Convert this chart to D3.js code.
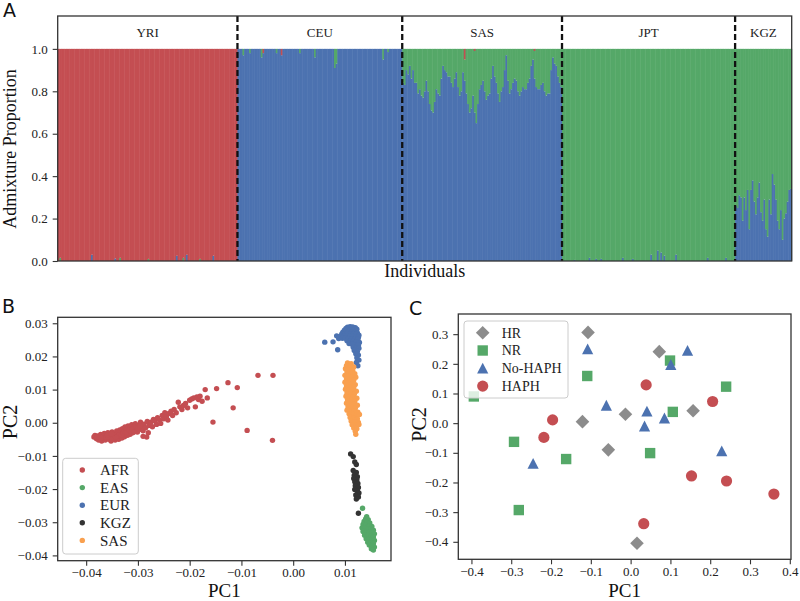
<!DOCTYPE html>
<html><head><meta charset="utf-8">
<script src="https://cdn.jsdelivr.net/npm/d3@7"></script>
<style>
html,body{margin:0;padding:0;background:#fff;}
svg{display:block;font-family:"Liberation Serif","DejaVu Serif",serif;}
svg text{font-family:"Liberation Serif","DejaVu Serif",serif;}
svg text.letter{font-family:"DejaVu Sans",sans-serif;}
</style></head>
<body><svg id="c" width="800" height="601"></svg>
<script>
// ---------------- Panel A data (admixture proportions per individual) ----------------
const populations = ["YRI","CEU","SAS","JPT","KGZ"];
// YRI: red is the remainder
const yriBlue = [0,0,0,0,0,0,0,0,0,0, 0,0,0,0,0,0,0,0,0,0, 0.03,0,0,0,0,0,0,0,0,0, 0,0,0,0,0.012,0,0,0,0,0,
  0,0,0,0,0,0,0,0,0,0, 0,0,0,0,0,0,0,0,0,0, 0,0,0,0,0,0,0,0,0,0, 0,0.025,0,0,0,0,0,0.03,0,0,
  0,0,0,0,0,0,0,0,0,0, 0,0,0,0.025,0,0,0,0,0,0, 0,0,0,0,0,0,0,0];
const yriGreen = [0,0.015,0,0,0,0,0,0,0,0, 0,0,0,0,0,0,0,0,0,0, 0,0,0,0,0,0,0,0,0,0, 0,0,0,0,0,0,0,0.015,0,0,
  0,0,0,0,0,0,0,0,0,0, 0,0,0,0,0.01,0,0,0,0,0, 0,0,0,0,0,0,0,0,0,0, 0,0,0,0,0,0.015,0,0,0,0,
  0,0,0,0,0,0.01,0,0,0,0, 0,0,0,0,0,0,0,0,0,0, 0,0,0,0,0,0,0,0];
// CEU: blue is the remainder
const ceuGreen = [0,0,0,0.03,0,0,0,0.02,0,0, 0,0,0,0,0.04,0,0,0,0,0, 0,0,0,0.02,0,0,0,0,0,0, 0,0,0,0,0,0,0,0.02,0,0,
  0,0,0,0,0,0,0.04,0,0,0, 0,0,0,0,0,0,0,0,0.09,0.07, 0,0,0,0,0,0,0,0,0,0, 0,0,0,0,0,0,0,0,0,0,
  0,0,0,0,0,0,0,0.05,0,0, 0.015,0,0,0,0,0,0,0,0];
const ceuRed = [0,0,0,0,0,0,0,0,0,0, 0,0,0,0,0,0.02,0,0,0,0, 0,0,0,0,0,0,0.03,0,0,0, 0,0,0,0,0,0,0,0,0,0,
  0,0,0,0,0,0,0,0,0,0, 0,0,0,0,0,0,0,0,0,0, 0,0,0,0,0,0,0,0,0,0, 0,0,0,0,0,0,0,0,0,0,
  0,0,0,0,0,0,0,0,0,0, 0,0,0,0,0,0,0,0,0];
// SAS: green is the remainder
const sasBlue = [0.84,0.83,0.90,0.88,0.92,0.86,0.90,0.84,0.84,0.79,0.81,0.78,0.77,0.80,0.85,0.80,0.74,0.71,0.70,0.75,
  0.81,0.79,0.78,0.86,0.92,0.90,0.89,0.87,0.87,0.84,0.82,0.86,0.89,0.82,0.78,0.80,0.89,0.85,0.79,0.74,
  0.70,0.72,0.78,0.70,0.65,0.74,0.81,0.83,0.85,0.80,0.76,0.78,0.79,0.86,0.92,0.87,0.84,0.79,0.75,0.80,
  0.82,0.90,0.97,0.85,0.79,0.81,0.84,0.86,0.85,0.80,0.78,0.80,0.82,0.81,0.81,0.84,0.86,0.92,0.95,0.86,
  0.82,0.81,0.81,0.83,0.84,0.80,0.78,0.79,0.79,0.90,0.96,0.93,0.92,0.87,0.84,0.82];
const sasRed = [0,0,0,0,0,0,0,0,0,0, 0,0,0,0,0,0,0,0,0,0, 0,0,0,0,0,0,0,0,0,0, 0,0,0,0,0,0,0,0.05,0,0,
  0,0,0,0.01,0,0,0,0,0,0, 0,0,0,0,0,0,0,0,0,0, 0,0,0,0,0,0,0,0,0,0, 0,0,0,0,0,0,0,0,0,0.01,
  0,0,0,0,0,0,0,0,0,0, 0,0,0,0,0,0];
// JPT: green is the remainder
const jptBlue = [0,0,0,0,0,0,0,0.005,0,0, 0,0,0,0,0,0,0.015,0,0,0, 0.01,0,0,0.01,0,0,0,0,0,0, 0,0,0,0,0,0,0.015,0,0,0,
  0,0,0.01,0,0,0,0,0,0,0, 0,0,0,0.03,0,0,0,0.05,0,0.04, 0,0.025,0,0,0,0,0,0,0.03,0, 0,0,0,0,0,0,0,0,0,0,
  0,0,0,0,0,0,0,0.015,0,0, 0,0,0,0,0,0,0,0,0.015,0, 0,0,0,0];
// KGZ: green is the remainder
const kgzBlue = [0.26,0.25,0.31,0.30,0.19,0.30,0.24,0.335,0.15,0.335,0.38,0.28,0.22,0.30,0.37,0.23,0.19,
  0.29,0.15,0.115,0.29,0.22,0.41,0.36,0.29,0.19,0.15,0.24,0.10,0.20,0.225,0.28,0.335,0.34];
const admixTicks = [0,0.2,0.4,0.6,0.8,1.0];

// ---------------- Panel B data (PCA coordinates) ----------------
const pcaGroups = ["AFR","EAS","EUR","KGZ","SAS"];
const afrPC = [[-0.0385,-0.0043],[-0.0383,-0.0038],[-0.0380,-0.0048],[-0.0378,-0.0040],[-0.0376,-0.0052],[-0.0374,-0.0045],[-0.0372,-0.0035],[-0.0370,-0.0055],[-0.0368,-0.0042],[-0.0366,-0.0048],[-0.0365,-0.0032],[-0.0363,-0.0052],[-0.0361,-0.0040],[-0.0360,-0.0046],[-0.0358,-0.0030],[-0.0356,-0.0050],[-0.0355,-0.0037],[-0.0353,-0.0043],[-0.0352,-0.0055],[-0.0350,-0.0028],[-0.0348,-0.0040],[-0.0347,-0.0047],[-0.0345,-0.0033],[-0.0344,-0.0052],[-0.0342,-0.0038],[-0.0341,-0.0025],[-0.0340,-0.0045],[-0.0338,-0.0032],[-0.0337,-0.0050],[-0.0335,-0.0022],[-0.0334,-0.0040],[-0.0333,-0.0030],[-0.0331,-0.0046],[-0.0330,-0.0018],[-0.0329,-0.0036],[-0.0327,-0.0027],[-0.0326,-0.0042],[-0.0325,-0.0013],[-0.0323,-0.0033],[-0.0322,-0.0022],[-0.0320,-0.0038],[-0.0319,-0.0010],[-0.0318,-0.0028],[-0.0316,-0.0017],[-0.0315,-0.0035],[-0.0313,-0.0023],[-0.0312,-0.0006],[-0.0310,-0.0030],[-0.0308,-0.0014],[-0.0306,-0.0024],[-0.0305,-0.0003],[-0.0303,-0.0018],[-0.0301,-0.0028],[-0.0299,-0.0008],[-0.0297,-0.0020],[-0.0295,0.0002],[-0.0293,-0.0012],[-0.0290,-0.0024],[-0.0288,-0.0004],[-0.0285,-0.0015],[-0.0282,0.0004],[-0.0280,-0.0030],[-0.0278,-0.0008],
  [-0.0379,-0.0044],[-0.0371,-0.0046],[-0.0362,-0.0044],[-0.0357,-0.0042],[-0.0349,-0.0050],[-0.0346,-0.0036],[-0.0339,-0.0041],[-0.0336,-0.0036],[-0.0332,-0.0038],[-0.0328,-0.0031],[-0.0324,-0.0029],[-0.0321,-0.0030],[-0.0317,-0.0022],[-0.0314,-0.0026],[-0.0311,-0.0020],[-0.0307,-0.0027],[-0.0304,-0.0012],[-0.0300,-0.0016],[-0.0296,-0.0010],[-0.0359,-0.0037],[-0.0343,-0.0044],[-0.0351,-0.0034],[-0.0290,-0.0041],[-0.0283,-0.0043],
  [-0.0275,0.0002],[-0.0272,-0.0012],[-0.0270,0.0010],[-0.0267,0.0005],[-0.0264,-0.0005],[-0.0262,0.0015],[-0.0258,0.0008],[-0.0256,-0.0002],[-0.0253,0.0022],[-0.0250,0.0012],[-0.0248,0.0030],[-0.0245,0.0018],[-0.0242,0.0008],[-0.0240,0.0028],[-0.0236,0.0035],[-0.0233,0.0022],[-0.0230,0.0040],[-0.0226,0.0030],[-0.0222,0.0062],[-0.0219,0.0048],[-0.0215,0.0040],[-0.0212,0.0052],[-0.0208,0.0058],[-0.0204,0.0045],[-0.0200,0.0068],[-0.0196,0.0072],[-0.0192,0.0075],[-0.0189,0.0048],[-0.0186,0.0078],[-0.0183,0.0070],[-0.0180,0.0080],[-0.0176,0.0065],[-0.0170,0.0100],[-0.0166,0.0075],[-0.0155,0.0002],[-0.0148,0.0103],[-0.0126,0.0121],[-0.0116,0.0045],[-0.0108,0.0106],[-0.0089,-0.0023],[-0.0068,0.0143],[-0.0039,0.0143],[-0.0040,-0.0053]];
const easPC = [[0.0134,-0.0258],[0.0142,-0.0283],[0.0140,-0.0290],[0.0145,-0.0292],[0.0137,-0.0298],[0.0143,-0.0300],[0.0148,-0.0302],[0.0135,-0.0307],[0.0141,-0.0309],[0.0147,-0.0311],[0.0152,-0.0313],[0.0133,-0.0317],[0.0139,-0.0318],[0.0145,-0.0320],[0.0150,-0.0322],[0.0155,-0.0324],[0.0135,-0.0328],[0.0141,-0.0329],[0.0147,-0.0331],[0.0152,-0.0333],[0.0157,-0.0335],[0.0138,-0.0339],[0.0144,-0.0340],[0.0150,-0.0342],[0.0155,-0.0344],[0.0141,-0.0350],[0.0147,-0.0351],[0.0152,-0.0353],[0.0157,-0.0355],[0.0144,-0.0360],[0.0150,-0.0362],[0.0155,-0.0364],[0.0147,-0.0369],[0.0152,-0.0372],[0.0157,-0.0375],[0.0151,-0.0380],[0.0155,-0.0384]];
const eurPC = [[0.0105,0.0288],[0.0110,0.0290],[0.0115,0.0289],[0.0120,0.0287],[0.0102,0.0284],[0.0108,0.0284],[0.0113,0.0285],[0.0118,0.0283],[0.0123,0.0282],[0.0099,0.0279],[0.0105,0.0279],[0.0111,0.0280],[0.0116,0.0278],[0.0122,0.0277],[0.0096,0.0273],[0.0101,0.0274],[0.0107,0.0275],[0.0113,0.0273],[0.0119,0.0272],[0.0124,0.0271],[0.0094,0.0268],[0.0099,0.0267],[0.0104,0.0269],[0.0110,0.0268],[0.0116,0.0267],[0.0122,0.0266],[0.0127,0.0264],[0.0092,0.0262],[0.0098,0.0261],[0.0104,0.0262],[0.0109,0.0261],[0.0115,0.0260],[0.0121,0.0259],[0.0126,0.0258],[0.0095,0.0255],[0.0101,0.0255],[0.0107,0.0254],[0.0113,0.0253],[0.0119,0.0252],[0.0125,0.0251],[0.0104,0.0247],[0.0110,0.0246],[0.0116,0.0245],[0.0122,0.0243],[0.0128,0.0242],[0.0108,0.0239],[0.0114,0.0237],[0.0120,0.0235],[0.0126,0.0234],[0.0116,0.0228],[0.0122,0.0226],[0.0127,0.0225],[0.0118,0.0218],[0.0124,0.0215],[0.0121,0.0208],[0.0126,0.0204],[0.0123,0.0196],[0.0127,0.0189],[0.0122,0.0182],[0.0125,0.0172],
  [0.0061,0.0243],[0.0077,0.0244],[0.0086,0.0220],[0.0088,0.0254],[0.0084,0.0262]];
const kgzPC = [[0.0111,-0.0094],[0.0116,-0.0102],[0.0119,-0.0118],[0.0122,-0.0126],[0.0116,-0.0144],[0.0122,-0.0150],[0.0118,-0.0158],[0.0124,-0.0163],[0.0117,-0.0168],[0.0123,-0.0172],[0.0119,-0.0178],[0.0125,-0.0183],[0.0120,-0.0190],[0.0126,-0.0195],[0.0119,-0.0201],[0.0124,-0.0206],[0.0127,-0.0212],[0.0121,-0.0218],[0.0126,-0.0224],[0.0122,-0.0230],[0.0126,-0.0273]];
const sasPC = [[0.0105,0.0180],[0.0112,0.0178],[0.0103,0.0172],[0.0110,0.0170],[0.0117,0.0168],[0.0101,0.0163],[0.0108,0.0160],[0.0115,0.0158],[0.0104,0.0153],[0.0112,0.0150],[0.0119,0.0148],[0.0100,0.0143],[0.0107,0.0141],[0.0114,0.0139],[0.0121,0.0137],[0.0103,0.0132],[0.0110,0.0130],[0.0117,0.0128],[0.0100,0.0122],[0.0107,0.0120],[0.0114,0.0118],[0.0120,0.0115],[0.0103,0.0111],[0.0110,0.0109],[0.0117,0.0107],[0.0101,0.0101],[0.0108,0.0099],[0.0115,0.0097],[0.0122,0.0095],[0.0104,0.0090],[0.0111,0.0088],[0.0118,0.0086],[0.0102,0.0080],[0.0109,0.0078],[0.0116,0.0076],[0.0123,0.0074],[0.0105,0.0069],[0.0112,0.0067],[0.0119,0.0065],[0.0103,0.0059],[0.0110,0.0057],[0.0117,0.0055],[0.0124,0.0053],[0.0106,0.0048],[0.0113,0.0046],[0.0120,0.0044],[0.0104,0.0038],[0.0111,0.0036],[0.0118,0.0034],[0.0125,0.0032],[0.0108,0.0027],[0.0115,0.0025],[0.0122,0.0023],[0.0128,0.0025],[0.0110,0.0016],[0.0117,0.0014],[0.0124,0.0012],[0.0112,0.0005],[0.0119,0.0003],[0.0126,0.0001],[0.0114,-0.0006],[0.0121,-0.0008],[0.0127,-0.0005],[0.0117,-0.0016],[0.0123,-0.0018],[0.0120,-0.0026],[0.0121,-0.0035]];
const pcaXTicks = [-0.04,-0.03,-0.02,-0.01,0.00,0.01];
const pcaYTicks = [-0.04,-0.03,-0.02,-0.01,0.00,0.01,0.02,0.03];

// ---------------- Panel C data ----------------
const phenoGroups = ["HR","NR","No-HAPH","HAPH"];
const hrPC = [[-0.107,0.306],[0.072,0.241],[-0.013,0.030],[-0.121,0.005],[-0.056,-0.090],[0.157,0.042],[0.016,-0.405]];
const nrPC = [[-0.394,0.090],[-0.109,0.159],[0.099,0.211],[0.240,0.123],[0.106,0.038],[-0.293,-0.063],[-0.162,-0.121],[0.049,-0.101],[-0.281,-0.293]];
const nohaphPC = [[-0.108,0.250],[0.143,0.245],[0.101,0.197],[-0.061,0.060],[0.041,0.040],[0.035,-0.010],[0.085,0.017],[-0.245,-0.136],[0.229,-0.094]];
const haphPC = [[0.039,0.129],[0.206,0.073],[-0.196,0.011],[-0.218,-0.048],[0.153,-0.178],[0.241,-0.195],[0.360,-0.239],[0.033,-0.339]];
const phenoXTicks = [-0.4,-0.3,-0.2,-0.1,0.0,0.1,0.2,0.3,0.4];
const phenoYTicks = [-0.4,-0.3,-0.2,-0.1,0.0,0.1,0.2,0.3];

// ---------------- styles ----------------
const RED="#c44e52", GREEN="#55a868", BLUE="#4c72b0", DARK="#333333", ORANGE="#f9a04f", GREY="#8c8c8c";
const FRAME="#333333";
const SERIF="'Liberation Serif','DejaVu Serif',serif";

const svg = d3.select("#c");

function styleAxis(g, fs){
  g.attr("font-family", SERIF).attr("font-size", fs);
  g.select(".domain").remove();
  g.selectAll(".tick line").attr("stroke", FRAME).attr("stroke-width",1.1);
  g.selectAll(".tick text").attr("fill","#222").attr("font-family",SERIF)
    .style("font-size",fs+"px").style("font-family",SERIF);
}
function frame(x0,y0,x1,y1){
  svg.append("rect").attr("x",x0).attr("y",y0).attr("width",x1-x0).attr("height",y1-y0)
    .attr("fill","none").attr("stroke",FRAME).attr("stroke-width",1.3);
}
function panelLetter(t,x,y){
  svg.append("text").attr("class","letter").attr("x",x).attr("y",y).text(t)
    .style("font-size","19px").attr("fill","#111");
}

// ================= Panel A =================
(function(){
  const L=57.7, R=791.7, T=16, B=261;
  const comps = {
    YRI: yriBlue.map((b,i)=>({blue:b, green:yriGreen[i], red:1-b-yriGreen[i]})),
    CEU: ceuGreen.map((g,i)=>({blue:1-g-ceuRed[i], green:g, red:ceuRed[i]})),
    SAS: sasBlue.map((b,i)=>({blue:b, green:1-b-sasRed[i], red:sasRed[i]})),
    JPT: jptBlue.map((b)=>({blue:b, green:1-b, red:0})),
    KGZ: kgzBlue.map((b)=>({blue:b, green:1-b, red:0}))
  };
  const inds = [];
  populations.forEach(p=>comps[p].forEach((c,i)=>inds.push({id:p+"_"+i, pop:p, ...c})));
  const x = d3.scaleBand().domain(inds.map(d=>d.id)).range([L,R]).padding(0);
  const y = d3.scaleLinear().domain([0,1.155]).range([B,T]);
  const g = svg.append("g");
  const bw = x.bandwidth();
  const segs = [];
  inds.forEach(d=>{
    let acc=0;
    [["blue",BLUE],["green",GREEN],["red",RED]].forEach(([k,col])=>{
      const v=Math.max(0,d[k]);
      if(v>0) segs.push({id:d.id, y0:acc, y1:acc+v, col});
      acc+=v;
    });
  });
  g.selectAll("rect.seg").data(segs).join("rect").attr("class","seg")
    .attr("x",d=>x(d.id)).attr("width",bw+0.5)
    .attr("y",d=>y(d.y1)).attr("height",d=>y(d.y0)-y(d.y1))
    .attr("fill",d=>d.col);
  populations.forEach((p,pi)=>{
    const first = x(p+"_0"), last = x(p+"_"+(comps[p].length-1))+bw;
    svg.append("text").attr("x",(first+last)/2).attr("y",37).attr("text-anchor","middle")
      .style("font-size","13px").attr("fill","#222").text(p);
    if(pi>0){
      svg.append("line").attr("x1",first).attr("x2",first).attr("y1",T).attr("y2",B)
        .attr("stroke","#111").attr("stroke-width",2.3).attr("stroke-dasharray","6,3");
    }
  });
  const ax = svg.append("g").attr("transform",`translate(${L},0)`)
    .call(d3.axisLeft(y).tickValues(admixTicks).tickFormat(d3.format(".1f")).tickSize(5).tickPadding(5));
  styleAxis(ax,13);
  frame(L,T,R,B);
  svg.append("text").attr("transform","translate(16,149) rotate(-90)").attr("text-anchor","middle")
    .style("font-size","18px").attr("fill","#111").text("Admixture Proportion");
  svg.append("text").attr("x",(L+R)/2).attr("y",277).attr("text-anchor","middle")
    .style("font-size","18px").attr("fill","#111").text("Individuals");
  panelLetter("A",3,17);
})();

// ================= Panel B =================
(function(){
  const L=57.7, R=391, T=317.3, B=560.7;
  const x = d3.scaleLinear().domain([-0.0455,0.0189]).range([L,R]);
  const y = d3.scaleLinear().domain([-0.0416,0.0318]).range([B,T]);
  const col = d3.scaleOrdinal().domain(pcaGroups).range([RED,GREEN,BLUE,DARK,ORANGE]);
  const sets = {AFR:afrPC, EAS:easPC, EUR:eurPC, KGZ:kgzPC, SAS:sasPC};
  pcaGroups.forEach(gname=>{
    svg.append("g").selectAll("circle").data(sets[gname]).join("circle")
      .attr("cx",d=>x(d[0])).attr("cy",d=>y(d[1])).attr("r",2.7).attr("fill",col(gname));
  });
  const ax = svg.append("g").attr("transform",`translate(0,${B})`)
    .call(d3.axisBottom(x).tickValues(pcaXTicks).tickFormat(d3.format(".2f")).tickSize(5).tickPadding(2));
  styleAxis(ax,13);
  const ay = svg.append("g").attr("transform",`translate(${L},0)`)
    .call(d3.axisLeft(y).tickValues(pcaYTicks).tickFormat(d3.format(".2f")).tickSize(5).tickPadding(5));
  styleAxis(ay,13);
  frame(L,T,R,B);
  const lg = svg.append("g");
  lg.append("rect").attr("x",62.7).attr("y",458.3).attr("width",75.6).attr("height",95.7).attr("rx",3)
    .attr("fill","#fff").attr("fill-opacity",0.8).attr("stroke","#cccccc").attr("stroke-width",1);
  pcaGroups.forEach((gname,i)=>{
    const yy = 470 + i*17.6;
    lg.append("circle").attr("cx",82.3).attr("cy",yy).attr("r",2.7).attr("fill",col(gname));
    lg.append("text").attr("x",100).attr("y",yy).attr("dy","0.35em").style("font-size","15px")
      .attr("fill","#222").text(gname);
  });
  svg.append("text").attr("x",(L+R)/2).attr("y",597).attr("text-anchor","middle")
    .style("font-size","19px").attr("fill","#111").text("PC1");
  svg.append("text").attr("transform","translate(17,422) rotate(-90)").attr("text-anchor","middle")
    .style("font-size","20px").attr("fill","#111").text("PC2");
  panelLetter("B",2,313);
})();

// ================= Panel C =================
(function(){
  const L=458.3, R=791, T=314, B=559.3;
  const x = d3.scaleLinear().domain([-0.433,0.403]).range([L,R]);
  const y = d3.scaleLinear().domain([-0.459,0.368]).range([B,T]);
  const col = d3.scaleOrdinal().domain(phenoGroups).range([GREY,GREEN,BLUE,RED]);
  const shape = d3.scaleOrdinal().domain(phenoGroups).range(["diamond","square","triangle","circle"]);
  function marker(s){
    if(s==="diamond"){const d=6.8;return `M0,${-d}L${d},0L0,${d}L${-d},0Z`;}
    if(s==="square"){const h=5.2;return `M${-h},${-h}H${h}V${h}H${-h}Z`;}
    if(s==="triangle"){const h=5.6;return `M0,${-h}L${h},${h*0.95}L${-h},${h*0.95}Z`;}
    const r=5.6;return `M${r},0A${r},${r} 0 1,1 ${-r},0A${r},${r} 0 1,1 ${r},0Z`;
  }
  const sets = {"HR":hrPC,"NR":nrPC,"No-HAPH":nohaphPC,"HAPH":haphPC};
  phenoGroups.forEach(gname=>{
    svg.append("g").selectAll("path").data(sets[gname]).join("path")
      .attr("d",marker(shape(gname)))
      .attr("transform",d=>`translate(${x(d[0])},${y(d[1])})`)
      .attr("fill",col(gname));
  });
  const ax = svg.append("g").attr("transform",`translate(0,${B})`)
    .call(d3.axisBottom(x).tickValues(phenoXTicks).tickFormat(d3.format(".1f")).tickSize(5).tickPadding(2));
  styleAxis(ax,13);
  const ay = svg.append("g").attr("transform",`translate(${L},0)`)
    .call(d3.axisLeft(y).tickValues(phenoYTicks).tickFormat(d3.format(".1f")).tickSize(5).tickPadding(5));
  styleAxis(ay,13);
  frame(L,T,R,B);
  const lg = svg.append("g");
  lg.append("rect").attr("x",464).attr("y",321).attr("width",104).attr("height",77).attr("rx",3)
    .attr("fill","#fff").attr("fill-opacity",0.8).attr("stroke","#cccccc").attr("stroke-width",1);
  phenoGroups.forEach((gname,i)=>{
    const yy = 332.7 + i*17.8;
    lg.append("path").attr("d",marker(shape(gname))).attr("transform",`translate(482.7,${yy})`).attr("fill",col(gname));
    lg.append("text").attr("x",501.7).attr("y",yy).attr("dy","0.35em").style("font-size","14px")
      .attr("fill","#222").text(gname);
  });
  svg.append("text").attr("x",(L+R)/2).attr("y",597).attr("text-anchor","middle")
    .style("font-size","19px").attr("fill","#111").text("PC1");
  svg.append("text").attr("transform","translate(426,424.5) rotate(-90)").attr("text-anchor","middle")
    .style("font-size","20px").attr("fill","#111").text("PC2");
  panelLetter("C",409,315);
})();
</script></body></html>
